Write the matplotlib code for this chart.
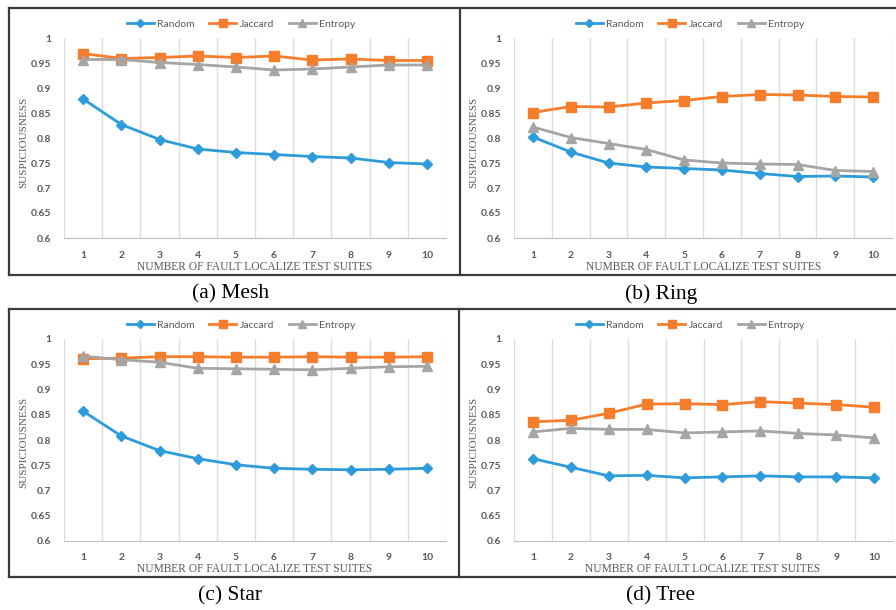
import numpy as np
import matplotlib
matplotlib.use("Agg")
import matplotlib.pyplot as plt
from matplotlib.ticker import FuncFormatter
from matplotlib.lines import Line2D

W, H = 896, 610

suites = np.arange(1, 11)

# suspiciousness per topology
mesh_random = [0.878, 0.827, 0.797, 0.778, 0.771, 0.767, 0.763, 0.760, 0.751, 0.748]
mesh_jaccard = [0.969, 0.959, 0.961, 0.964, 0.961, 0.964, 0.956, 0.958, 0.955, 0.955]
mesh_entropy = [0.957, 0.957, 0.951, 0.947, 0.942, 0.936, 0.938, 0.942, 0.946, 0.946]

ring_random = [0.802, 0.772, 0.750, 0.742, 0.739, 0.736, 0.729, 0.723, 0.724, 0.722]
ring_jaccard = [0.851, 0.863, 0.862, 0.870, 0.875, 0.883, 0.887, 0.886, 0.883, 0.882]
ring_entropy = [0.822, 0.801, 0.789, 0.777, 0.756, 0.750, 0.748, 0.747, 0.735, 0.733]

star_random = [0.857, 0.808, 0.779, 0.763, 0.751, 0.744, 0.742, 0.741, 0.742, 0.744]
star_jaccard = [0.961, 0.962, 0.965, 0.965, 0.964, 0.964, 0.965, 0.964, 0.964, 0.965]
star_entropy = [0.966, 0.959, 0.954, 0.942, 0.941, 0.940, 0.939, 0.942, 0.945, 0.946]

tree_random = [0.763, 0.746, 0.729, 0.730, 0.725, 0.727, 0.729, 0.727, 0.727, 0.725]
tree_jaccard = [0.836, 0.839, 0.853, 0.871, 0.872, 0.870, 0.876, 0.873, 0.870, 0.865]
tree_entropy = [0.816, 0.823, 0.821, 0.821, 0.814, 0.816, 0.818, 0.813, 0.810, 0.804]

captions = ["(a) Mesh", "(b) Ring", "(c) Star", "(d) Tree"]
series_names = ["Random", "Jaccard", "Entropy"]
colors = ["#2E9CDB", "#F57D2C", "#A5A5A5"]
markers = ["D", "s", "^"]
msizes = [5, 6.5, 6.5]

TICK = "#595959"
SANS = "Lato"
SERIF = "Liberation Serif"


def fx(x):
    return x / W


def fy(y):
    return 1 - y / H


def add_panel(box, data, legend_xy, ylab_xy, xlab_xy):
    l, t, r, b = box
    ax = fig.add_axes([fx(l), fy(b), (r - l) / W, (b - t) / H])
    for vals, c, m, ms, name in zip(data, colors, markers, msizes, series_names):
        ax.plot(suites, vals, color=c, marker=m, markersize=ms, lw=2,
                label=name, zorder=3)
    ax.set_xlim(0.5, 10.5)
    ax.set_ylim(0.6, 1.0)
    ax.set_xticks(suites)
    ax.set_yticks(np.arange(0.6, 1.0001, 0.05))
    ax.yaxis.set_major_formatter(FuncFormatter(lambda v, p: "%g" % round(v, 2)))
    ax.set_xticks(np.arange(0.5, 11, 1), minor=True)
    ax.grid(which="minor", axis="x", color="#DCDCDC", lw=1)
    ax.tick_params(which="both", length=0)
    ax.tick_params(axis="y", pad=9, labelsize=7.5, labelcolor=TICK)
    ax.tick_params(axis="x", pad=9, labelsize=7.5, labelcolor=TICK)
    for lab in ax.get_xticklabels() + ax.get_yticklabels():
        lab.set_fontfamily(SANS)
        lab.set_fontweight("bold")
    for s in ["top", "left", "right"]:
        ax.spines[s].set_visible(False)
    ax.spines["bottom"].set_color("#BFBFBF")

    handles = [Line2D([], [], color=c, marker=m, markersize=ms * 0.8, lw=2)
               for c, m, ms in zip(colors, markers, msizes)]
    fig.legend(handles, series_names, loc="center", ncol=3, frameon=False,
               bbox_to_anchor=(fx(legend_xy[0]), fy(legend_xy[1])),
               prop={"family": SANS, "size": 7.5}, labelcolor=TICK,
               handlelength=2.6, handletextpad=0.3, columnspacing=1.4)
    fig.text(fx(ylab_xy[0]), fy(ylab_xy[1]), "SUSPICIOUSNESS", rotation=90,
             ha="center", va="center", family=SERIF, size=8, color=TICK)
    fig.text(fx(xlab_xy[0]), fy(xlab_xy[1]), "NUMBER OF FAULT LOCALIZE TEST SUITES",
             ha="center", va="center", family=SERIF, size=8.3, color=TICK)
    return ax


fig = plt.figure(figsize=(W / 100, H / 100), dpi=100)

add_panel((64, 38, 446, 238), [mesh_random, mesh_jaccard, mesh_entropy],
          (241, 24), (24, 142), (255, 267))
add_panel((514, 38, 892, 238), [ring_random, ring_jaccard, ring_entropy],
          (690, 24), (474, 142), (704, 267))
add_panel((64, 339, 446, 541), [star_random, star_jaccard, star_entropy],
          (241, 325), (24, 442), (255, 569))
add_panel((514, 339, 893, 541), [tree_random, tree_jaccard, tree_entropy],
          (690, 325), (474, 442), (703, 569))

# table borders around each row of panels
frame = dict(color="#3A3A3A", lw=1.6, transform=fig.transFigure)
for top, bot, mid in [(7.5, 275, 460), (309, 577, 459)]:
    fig.add_artist(Line2D([fx(9), 1], [fy(top), fy(top)], **frame))
    fig.add_artist(Line2D([fx(9), 1], [fy(bot), fy(bot)], **frame))
    fig.add_artist(Line2D([fx(9), fx(9)], [fy(top), fy(bot)], **frame))
    fig.add_artist(Line2D([fx(mid), fx(mid)], [fy(top), fy(bot)], **frame))

for (cx, cy), txt in zip([(231, 294), (661, 294), (230, 596), (660, 596)], captions):
    fig.text(fx(cx), fy(cy), txt, ha="center", va="center", family=SERIF,
             size=15.5, color="black")

fig.savefig("out.png", dpi=100)
